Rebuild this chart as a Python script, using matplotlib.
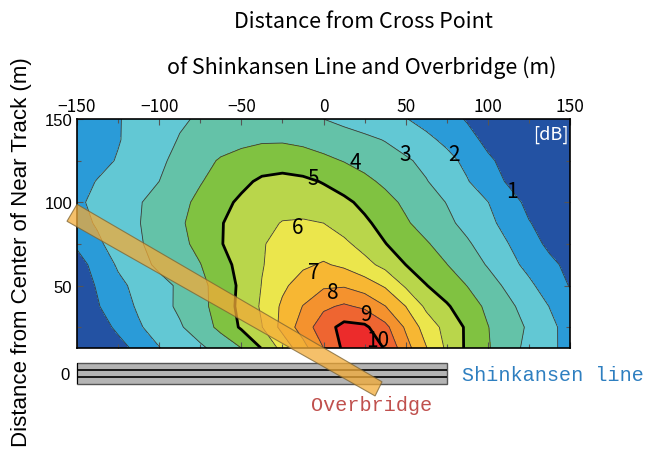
import numpy as np
import matplotlib
matplotlib.use('Agg')
import matplotlib.pyplot as plt
from matplotlib.patches import Polygon, Rectangle
from matplotlib.colors import ListedColormap, BoundaryNorm

# grid of the noise map: distance along the line (m) and from the near track (m)
x_m = [-150, -137.5, -125, -112.5, -100, -87.5, -75, -62.5, -50, -37.5, -25, -12.5, 0,
       12.5, 25, 37.5, 50, 62.5, 75, 87.5, 100, 112.5, 125, 137.5, 150]
y_m = [12.5, 25, 37.5, 50, 62.5, 75, 87.5, 100, 112.5, 125, 137.5, 150]

# noise reduction (dB), one row per y_m value
db_y12 = [0.2, 0.4, 0.7, 1.24, 1.97, 2.41, 2.83, 3.38, 4.0, 5.05, 6.33, 7.65, 9.0,
          10.2, 10.6, 9.94, 8.38, 7.05, 5.83, 4.82, 4.09, 3.37, 2.74, 2.2, 1.7]
db_y25 = [0.3, 0.6, 1.17, 1.89, 2.41, 2.89, 3.51, 4.25, 5.13, 5.97, 7.3, 8.46, 9.57,
          10.3, 10.2, 9.29, 7.86, 6.55, 5.69, 4.84, 4.03, 3.45, 2.87, 2.23, 1.65]
db_y37 = [0.45, 0.93, 1.54, 2.13, 2.65, 3.17, 3.72, 4.41, 5.27, 6.13, 7.17, 8.03, 8.81,
          9.15, 8.81, 8.03, 7.0, 5.81, 5.11, 4.45, 3.81, 3.21, 2.6, 1.98, 1.4]
db_y50 = [0.5, 1.08, 1.77, 2.27, 2.7, 3.14, 3.74, 4.42, 5.2, 6.03, 6.81, 7.45, 7.85,
          7.9, 7.5, 6.88, 5.87, 5.03, 4.5, 3.98, 3.4, 2.8, 2.19, 1.55, 0.95]
db_y62 = [0.6, 1.36, 2.12, 2.69, 3.18, 3.57, 3.97, 4.64, 5.31, 5.95, 6.4, 6.84, 7.1,
          6.82, 6.31, 5.72, 5.0, 4.51, 4.02, 3.48, 2.93, 2.31, 1.74, 1.23, 0.75]
db_y75 = [1.15, 1.85, 2.37, 2.9, 3.33, 3.75, 4.27, 4.95, 5.45, 5.94, 6.25, 6.5, 6.5,
          6.2, 5.65, 5.03, 4.56, 4.09, 3.61, 3.12, 2.57, 2.01, 1.39, 0.8, 0.5]
db_y87 = [1.7, 2.09, 2.53, 2.96, 3.41, 3.86, 4.39, 4.95, 5.34, 5.72, 6.05, 6.1, 6.0,
          5.58, 5.17, 4.67, 4.11, 3.64, 3.2, 2.73, 2.24, 1.67, 1.04, 0.7, 0.45]
db_y100 = [1.85, 2.21, 2.57, 2.93, 3.33, 3.75, 4.22, 4.76, 5.15, 5.4, 5.6, 5.6, 5.45,
           5.2, 4.77, 4.29, 3.83, 3.40, 2.97, 2.5, 2.02, 1.34, 0.8, 0.55, 0.35]
db_y112 = [1.7, 2.04, 2.36, 2.68, 3.0, 3.47, 3.94, 4.37, 4.8, 5.15, 5.3, 5.2, 4.94,
           4.57, 4.21, 3.83, 3.44, 3.05, 2.56, 2.06, 1.42, 0.9, 0.6, 0.4, 0.25]
db_y125 = [1.55, 1.75, 2.06, 2.45, 2.84, 3.25, 3.67, 4.1, 4.35, 4.55, 4.55, 4.4, 4.2,
           3.96, 3.68, 3.41, 3.13, 2.76, 2.29, 1.76, 1.13, 0.75, 0.5, 0.35, 0.22]
db_y137 = [1.6, 1.8, 1.95, 2.31, 2.69, 3.05, 3.3, 3.55, 3.75, 3.88, 3.9, 3.8, 3.6,
           3.4, 3.2, 2.96, 2.59, 2.22, 1.79, 1.27, 0.8, 0.55, 0.4, 0.28, 0.18]
db_y150 = [1.6, 1.8, 1.95, 2.26, 2.57, 2.89, 3.1, 3.35, 3.5, 3.55, 3.45, 3.25, 3.0,
           2.76, 2.52, 2.28, 2.04, 1.68, 1.30, 0.93, 0.7, 0.5, 0.35, 0.25, 0.15]

line_levels = [1, 2, 3, 4, 5, 6, 7, 8, 9, 10]
bold_levels = [5, 10]
band_colors = ['#2352a3', '#2a9bd8', '#62c8d4', '#64c2a8', '#80c241', '#b9d64b',
               '#ebe64c', '#f7b733', '#f4922e', '#ee6531', '#ec2b2b']

# contour labels and where they sit
label_text = ['1', '2', '3', '4', '5', '6', '7', '8', '9', '10']
label_x = [114.8, 79.3, 49.6, 19.2, -6.4, -16.0, -5.7, 5.8, 25.9, 33.2]
label_y = [107.0, 128.9, 128.9, 124.0, 114.5, 85.0, 58.4, 46.4, 33.0, 17.5]

Z = np.array([db_y12, db_y25, db_y37, db_y50, db_y62, db_y75, db_y87,
              db_y100, db_y112, db_y125, db_y137, db_y150])
X, Y = np.meshgrid(x_m, y_m)

gothic = ['Noto Sans CJK JP', 'DejaVu Sans']
arial = ['Liberation Sans', 'DejaVu Sans']

fig = plt.figure(figsize=(6.52, 4.52), dpi=100)
ax = fig.add_axes([77 / 652, 1 - 349 / 452, 493 / 652, 229 / 452])
ax.set_zorder(3)

bounds = [-1] + line_levels + [12]
cmap = ListedColormap(band_colors)
norm = BoundaryNorm(bounds, cmap.N)
ax.contourf(X, Y, Z, levels=bounds, cmap=cmap, norm=norm)
thin = [l for l in line_levels if l not in bold_levels]
ax.contour(X, Y, Z, levels=thin, colors='#3a3a3a', linewidths=0.6)
ax.contour(X, Y, Z, levels=bold_levels, colors='k', linewidths=2.0)

for t, lx, ly in zip(label_text, label_x, label_y):
    ax.text(lx, ly, t, ha='center', va='center', fontsize=15, family=gothic, color='k')
ax.text(0.997, 0.975, '[dB]', transform=ax.transAxes, ha='right', va='top',
        fontsize=13, family=gothic, color='white')

ax.set_xlim(-150, 150)
ax.set_ylim(12.5, 150)
ax.xaxis.tick_top()
ax.set_xticks([-150, -100, -50, 0, 50, 100, 150])
ax.set_xticks([-125, -75, -25, 25, 75, 125], minor=True)
ax.set_yticks([50, 100, 150])
ax.set_yticks([25, 75, 125], minor=True)
ax.tick_params(which='both', direction='in', top=True, bottom=True, left=True, right=True,
               color='#555555', length=4, width=0.8)
ax.tick_params(which='minor', length=3)
ax.tick_params(axis='x', labeltop=True, labelbottom=False, pad=3)
for lab in ax.get_xticklabels():
    lab.set_family(gothic)
    lab.set_fontsize(12.5)
for lab in ax.get_yticklabels():
    lab.set_family(arial)
    lab.set_fontsize(12)
for s in ax.spines.values():
    s.set_linewidth(1.2)
    s.set_color('k')

# overbridge drawn across the map and the track
bridge = Polygon([(-156.1, 88.6), (-150.0, 98.8), (35.6, -7.8), (31.4, -16.3)],
                 closed=True, facecolor='#f2ab38', alpha=0.75, edgecolor='#7a6232',
                 linewidth=0.8, clip_on=False, zorder=10)
ax.add_patch(bridge)

# Shinkansen tracks
tax = fig.add_axes([77 / 652, 1 - 384.5 / 452, 493 / 652, 20.5 / 452])
tax.set_zorder(1)
tax.set_xlim(-150, 150)
tax.set_ylim(-1.5, 1.5)
tax.patch.set_visible(False)
for s in tax.spines.values():
    s.set_visible(False)
tax.add_patch(Rectangle((-150, -1.5), 225, 3, facecolor='#b4b4b4', edgecolor='#555555',
                        linewidth=1.0, clip_on=False))
tax.hlines([-0.5, 0.5], -150, 75, colors='k', linewidth=1.2)
tax.vlines(-150, -1.5, 1.5, colors='k', linewidth=1.4)
tax.set_xticks([])
tax.set_yticks([0])
tax.set_yticklabels(['0'], family=arial, fontsize=12)
tax.tick_params(axis='y', length=0, pad=5)

fig.text(462 / 652, 1 - 376 / 452, 'Shinkansen line', ha='left', va='center',
         fontsize=14.5, family='Liberation Mono', color='#2e7fc0')
fig.text(311 / 652, 1 - 406 / 452, 'Overbridge', ha='left', va='center',
         fontsize=14.5, family='Liberation Mono', color='#c0504d')

fig.text(363 / 652, 1 - 22 / 452, 'Distance from Cross Point', ha='center', va='center',
         fontsize=15.5, family=gothic)
fig.text(362 / 652, 1 - 68 / 452, 'of Shinkansen Line and Overbridge (m)', ha='center',
         va='center', fontsize=15.5, family=gothic)
fig.text(22 / 652, 1 - 252 / 452, 'Distance from Center of Near Track (m)', rotation=90,
         ha='center', va='center', fontsize=16, family=arial)

fig.savefig('out.png', dpi=100)
